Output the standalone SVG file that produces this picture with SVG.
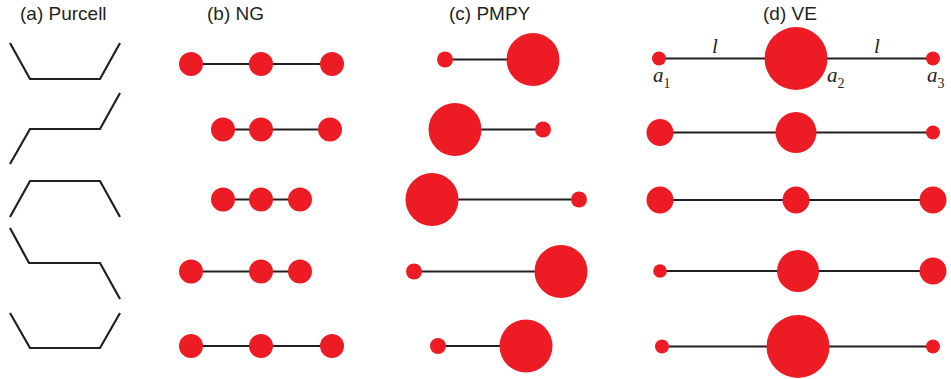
<svg xmlns="http://www.w3.org/2000/svg" width="951" height="379" viewBox="0 0 951 379">
<style>
.t{font-family:"Liberation Sans","Open Sans",sans-serif;font-size:19px;fill:#231f20}
.m{font-family:"Liberation Serif",serif;font-style:italic;font-size:21px;fill:#231f20}
.s{font-family:"Liberation Serif",serif;font-size:14px;fill:#231f20;font-style:normal}
.p{fill:none;stroke:#231f20;stroke-width:2.2}
.r{fill:#ed1c24}
.c line{stroke:#231f20;stroke-width:2.2}
</style>
<rect width="951" height="379" fill="#fff"/>
<text class="t" x="20" y="20">(a) Purcell</text>
<text class="t" x="207" y="20">(b) NG</text>
<text class="t" x="449" y="20">(c) PMPY</text>
<text class="t" x="763" y="20">(d) VE</text>
<g id="purcell">
<polyline class="p" points="10,43 30,79 100,79 120,43"/>
<polyline class="p" points="10,164 30,129 100,129 120,93"/>
<polyline class="p" points="10,217 30,181 100,181 120,217"/>
<polyline class="p" points="10,228 29,263 100,263 120,299"/>
<polyline class="p" points="10,313 30,348 100,348 120,313"/>
</g>
<g id="connectors" class="c">
<line x1="191" y1="64" x2="332" y2="64"/>
<line x1="223" y1="129.5" x2="330" y2="129.5"/>
<line x1="223" y1="199.5" x2="300" y2="199.5"/>
<line x1="191" y1="271.5" x2="300" y2="271.5"/>
<line x1="191" y1="346" x2="332" y2="346"/>
<line x1="445" y1="59.5" x2="533" y2="59.5"/>
<line x1="455" y1="129.5" x2="543" y2="129.5"/>
<line x1="432" y1="199.5" x2="579" y2="199.5"/>
<line x1="414" y1="271.5" x2="561" y2="271.5"/>
<line x1="438" y1="346" x2="526" y2="346"/>
<line x1="659" y1="58.5" x2="933" y2="58.5"/>
<line x1="660" y1="132.5" x2="933" y2="132.5"/>
<line x1="660" y1="200" x2="933" y2="200"/>
<line x1="660" y1="271" x2="933" y2="271"/>
<line x1="662" y1="346.5" x2="933" y2="346.5"/>
</g>
<g id="ng1" class="r"><circle cx="191" cy="64" r="12"/><circle cx="261" cy="64" r="12"/><circle cx="332" cy="64" r="12"/></g>
<g id="ng2" class="r"><circle cx="223" cy="129.5" r="12"/><circle cx="261" cy="129.5" r="12"/><circle cx="330" cy="129.5" r="12"/></g>
<g id="ng3" class="r"><circle cx="223" cy="199.5" r="12"/><circle cx="261" cy="199.5" r="12"/><circle cx="300" cy="199.5" r="12"/></g>
<g id="ng4" class="r"><circle cx="191" cy="271.5" r="12"/><circle cx="261" cy="271.5" r="12"/><circle cx="300" cy="271.5" r="12"/></g>
<g id="ng5" class="r"><circle cx="191" cy="346" r="12"/><circle cx="261" cy="346" r="12"/><circle cx="332" cy="346" r="12"/></g>
<g id="pmpy1" class="r"><circle cx="445" cy="59.5" r="8"/><circle cx="533" cy="59.5" r="26.5"/></g>
<g id="pmpy2" class="r"><circle cx="455" cy="129.5" r="26.5"/><circle cx="543" cy="129.5" r="8"/></g>
<g id="pmpy3" class="r"><circle cx="432" cy="199.5" r="26.5"/><circle cx="579" cy="199.5" r="8"/></g>
<g id="pmpy4" class="r"><circle cx="414" cy="271.5" r="8"/><circle cx="561" cy="271.5" r="26.5"/></g>
<g id="pmpy5" class="r"><circle cx="438" cy="346" r="8"/><circle cx="526" cy="346" r="26.5"/></g>
<g id="ve1" class="r"><circle cx="659" cy="58.5" r="7"/><circle cx="796" cy="58.5" r="31.5"/><circle cx="933" cy="58.5" r="7"/></g>
<g id="ve2" class="r"><circle cx="660" cy="132.5" r="13.5"/><circle cx="796" cy="132.5" r="20.5"/><circle cx="933" cy="132.5" r="7"/></g>
<g id="ve3" class="r"><circle cx="660" cy="200" r="13.5"/><circle cx="796" cy="200" r="13.5"/><circle cx="933" cy="200" r="13.5"/></g>
<g id="ve4" class="r"><circle cx="660" cy="271" r="6.8"/><circle cx="798" cy="271" r="21"/><circle cx="933" cy="271" r="13.5"/></g>
<g id="ve5" class="r"><circle cx="662" cy="346.5" r="7"/><circle cx="798" cy="346.5" r="31.5"/><circle cx="933" cy="346.5" r="7"/></g>
<g id="labels">
<text class="m" x="712" y="53">l</text>
<text class="m" x="874" y="53">l</text>
<text class="m" x="653" y="82">a<tspan class="s" dy="6">1</tspan></text>
<text class="m" x="827" y="82">a<tspan class="s" dy="6">2</tspan></text>
<text class="m" x="927" y="82">a<tspan class="s" dy="6">3</tspan></text>
</g>
</svg>
